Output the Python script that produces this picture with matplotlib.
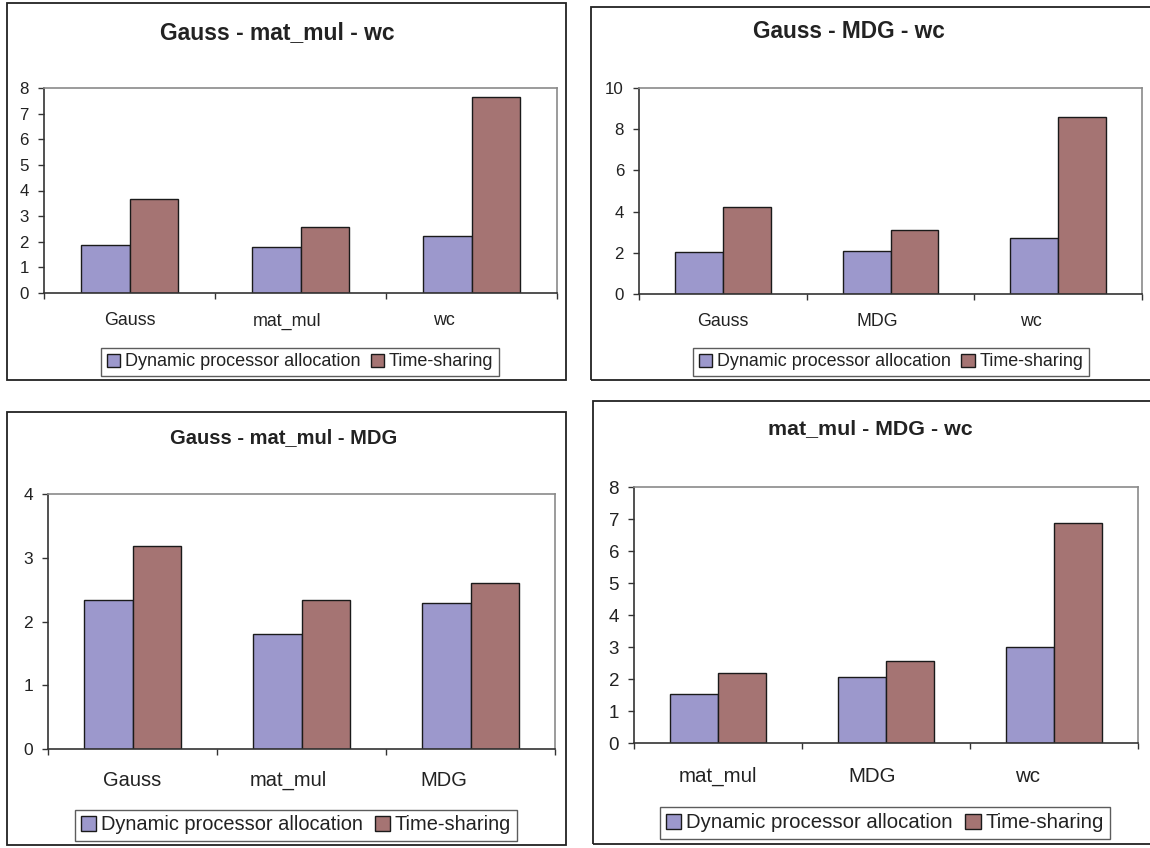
import matplotlib.pyplot as plt
from matplotlib.patches import Rectangle, Patch

plt.rcParams['font.family'] = ['Liberation Sans', 'DejaVu Sans']

W, H = 1150, 848  # canvas size in pixels

# speed-up data for each job mix
titles = ['Gauss - mat_mul - wc', 'Gauss - MDG - wc',
          'Gauss - mat_mul - MDG', 'mat_mul - MDG - wc']
cats = [['Gauss', 'mat_mul', 'wc'],
        ['Gauss', 'MDG', 'wc'],
        ['Gauss', 'mat_mul', 'MDG'],
        ['mat_mul', 'MDG', 'wc']]
dpa = [[1.87, 1.81, 2.23],
       [2.02, 2.09, 2.70],
       [2.34, 1.80, 2.29],
       [1.53, 2.07, 3.01]]
tsh = [[3.67, 2.59, 7.64],
       [4.21, 3.09, 8.61],
       [3.18, 2.34, 2.60],
       [2.18, 2.57, 6.88]]
ymax = [8, 10, 4, 8]
ystep = [1, 2, 1, 1]
series = ['Dynamic processor allocation', 'Time-sharing']

c_dpa = '#9c98cc'
c_ts = '#a57473'

# layout boxes in pixels: frame, plot area, title centre, legend centre
frames = [(7, 3, 566, 380), (591, 7, 1170, 380),
          (7, 412, 566, 845), (593, 401, 1170, 844)]
plots = [(44, 88, 557, 293), (639, 88, 1142, 294),
         (48, 494, 555, 749), (634, 487, 1138, 743)]
tpos = [(277, 33), (849, 32), (284, 438), (870, 429)]
lpos = [(300, 362), (891, 362), (296, 825), (885, 823)]
title_fs = [16.5, 16.3, 14.5, 15.4]
tick_fs = [12.2, 12.2, 12.5, 13.5]
cat_fs = [12.9, 12.8, 14.5, 14.8]
leg_fs = [13, 12.9, 14.4, 14.7]
cat_pad = [14, 14, 16, 17]

fig = plt.figure(figsize=(W / 100, H / 100), dpi=100)


def fbox(x0, y0, x1, y1):
    return [x0 / W, 1 - y1 / H, (x1 - x0) / W, (y1 - y0) / H]


for k in range(4):
    fr = fbox(*frames[k])
    fig.patches.append(Rectangle((fr[0], fr[1]), fr[2], fr[3], transform=fig.transFigure,
                                 fill=False, edgecolor='#222222', lw=1.3))

    ax = fig.add_axes(fbox(*plots[k]))
    n = len(cats[k])
    w = 1 / 3.5
    x = list(range(n))
    ax.bar([i - w / 2 for i in x], dpa[k], width=w, color=c_dpa,
           edgecolor='#1a1a1a', lw=1)
    ax.bar([i + w / 2 for i in x], tsh[k], width=w, color=c_ts,
           edgecolor='#1a1a1a', lw=1)
    ax.set_xlim(-0.5, n - 0.5)
    ax.set_ylim(0, ymax[k])
    ax.set_yticks(range(0, ymax[k] + 1, ystep[k]))
    ax.tick_params(axis='y', length=4.3, width=1, color='#333333', pad=6.5,
                   labelsize=tick_fs[k], labelcolor='#222222')
    # category labels sit a bit left of the group centres
    ax.set_xticks([i * 0.92 for i in x])
    ax.set_xticklabels(cats[k])
    ax.tick_params(axis='x', length=0, pad=cat_pad[k], labelsize=cat_fs[k],
                   labelcolor='#222222')
    ax.set_xticks([i - 0.5 for i in range(n + 1)], minor=True)
    ax.tick_params(axis='x', which='minor', length=4.5, width=1, color='#333333')
    for s in ['top', 'right']:
        ax.spines[s].set_color('#8a8a8a')
        ax.spines[s].set_linewidth(1.2)
    for s in ['left', 'bottom']:
        ax.spines[s].set_color('#333333')
        ax.spines[s].set_linewidth(1.2)

    fig.text(tpos[k][0] / W, 1 - tpos[k][1] / H, titles[k], ha='center', va='center',
             fontsize=title_fs[k], fontweight='bold', color='#222222')

    handles = [Patch(facecolor=c_dpa, edgecolor='#1a1a1a', lw=1),
               Patch(facecolor=c_ts, edgecolor='#1a1a1a', lw=1)]
    leg = fig.legend(handles, series, loc='center', ncol=2,
                     bbox_to_anchor=(lpos[k][0] / W, 1 - lpos[k][1] / H),
                     bbox_transform=fig.transFigure, fontsize=leg_fs[k],
                     frameon=True, fancybox=False, handlelength=0.75, handleheight=0.75,
                     handletextpad=0.25, columnspacing=0.6, borderpad=0.3,
                     borderaxespad=0)
    leg.get_frame().set_edgecolor('#333333')
    leg.get_frame().set_linewidth(1)
    for t in leg.get_texts():
        t.set_color('#222222')

fig.savefig('out.png', dpi=100)
